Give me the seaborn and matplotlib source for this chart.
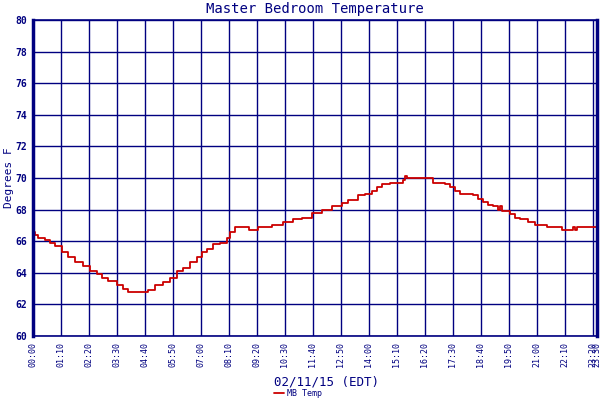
import numpy as np
import pandas as pd
import seaborn as sns
import matplotlib.pyplot as plt

sns.set_style("white")
plt.rcParams['font.family'] = ['DejaVu Sans Mono', 'DejaVu Sans']

# minutes after midnight and temperature (F)
minutes = [0, 5, 12, 30, 42, 55, 72, 88, 105, 125, 142, 160, 172, 188, 210, 225,
           238, 275, 288, 305, 325, 342, 360, 375, 392, 410, 422, 435, 450, 468,
           485, 492, 505, 540, 562, 598, 625, 650, 672, 698, 722, 748, 772, 788,
           812, 830, 848, 860, 872, 892, 925, 930, 935, 1000, 1030, 1042, 1055,
           1068, 1100, 1112, 1125, 1138, 1150, 1162, 1168, 1172, 1192, 1205, 1218,
           1238, 1255, 1285, 1322, 1350, 1355, 1360, 1410]
temps = [66.6, 66.4, 66.2, 66.1, 65.9, 65.7, 65.3, 65.0, 64.7, 64.4, 64.1, 63.9,
         63.7, 63.5, 63.2, 63.0, 62.8, 62.8, 62.9, 63.2, 63.4, 63.7, 64.1, 64.3,
         64.7, 65.0, 65.3, 65.5, 65.8, 65.9, 66.2, 66.6, 66.9, 66.7, 66.9, 67.0,
         67.2, 67.4, 67.5, 67.8, 68.0, 68.2, 68.4, 68.6, 68.9, 69.0, 69.2, 69.4,
         69.6, 69.7, 69.9, 70.1, 70.0, 69.7, 69.6, 69.4, 69.2, 69.0, 68.9, 68.7,
         68.5, 68.3, 68.2, 68.0, 68.2, 67.9, 67.7, 67.5, 67.4, 67.2, 67.0, 66.9,
         66.7, 66.9, 66.7, 66.9, 66.7]

tick_minutes = [0, 70, 140, 210, 280, 350, 420, 490, 560, 630, 700, 770, 840,
                910, 980, 1050, 1120, 1190, 1260, 1330, 1400, 1410]
tick_labels = ["00:00", "01:10", "02:20", "03:30", "04:40", "05:50", "07:00",
               "08:10", "09:20", "10:30", "11:40", "12:50", "14:00", "15:10",
               "16:20", "17:30", "18:40", "19:50", "21:00", "22:10", "23:20",
               "23:30"]

df = pd.DataFrame({"minute": minutes, "temp": temps})

navy = "#000080"
fig = plt.figure(figsize=(6, 4), dpi=100)
ax = fig.add_axes([0.055, 0.16, 0.94, 0.79])

sns.lineplot(data=df, x="minute", y="temp", ax=ax, color="#cc0000",
             linewidth=1.3, drawstyle="steps-post", label="MB Temp", legend=False)

ax.set_xlim(0, 1410)
ax.set_ylim(60, 80)
ax.set_yticks(np.arange(60, 81, 2))
ax.set_xticks(tick_minutes)
ax.set_xticklabels(tick_labels, rotation=90, fontsize=6, color=navy)
ax.tick_params(axis="y", labelsize=7, colors=navy, length=0, pad=4)
ax.tick_params(axis="x", length=0, pad=4)
for lbl in ax.get_yticklabels():
    lbl.set_fontweight("bold")
ax.grid(True, color=navy, linewidth=1.0)
for side in ["top", "right", "bottom"]:
    ax.spines[side].set_color(navy)
    ax.spines[side].set_linewidth(1.2)
ax.spines["left"].set_color(navy)
ax.spines["left"].set_linewidth(2.5)
ax.spines["right"].set_linewidth(2.5)

ax.set_title("Master Bedroom Temperature", color=navy, fontsize=10, pad=5)
ax.set_xlabel("02/11/15 (EDT)", color=navy, fontsize=9)
ax.xaxis.set_label_coords(0.52, -0.125)
ax.set_ylabel("Degrees F", color=navy, fontsize=8)
ax.yaxis.set_label_coords(-0.034, 0.5)

handles, labels = ax.get_legend_handles_labels()
fig.legend(handles, labels, loc="center", bbox_to_anchor=(0.497, 0.016),
           frameon=False, fontsize=6, handlelength=1.2, handletextpad=0.4,
           labelcolor=navy, borderpad=0)

fig.savefig("out.png", dpi=100)
